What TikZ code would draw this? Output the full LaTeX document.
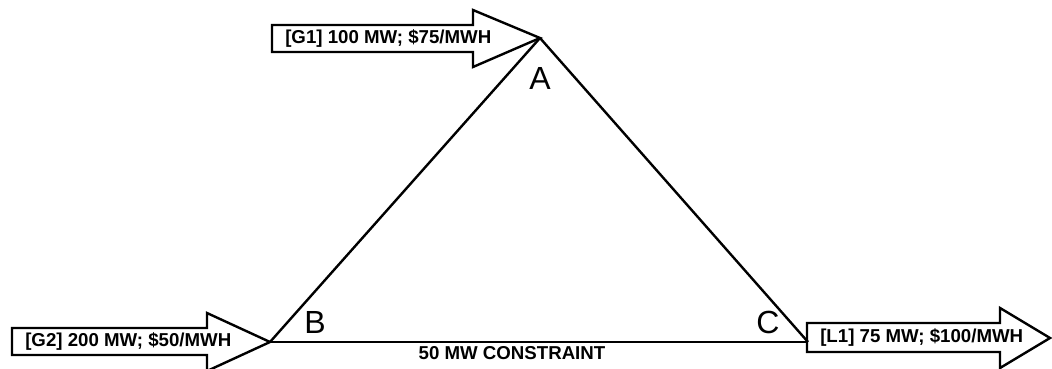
\documentclass[tikz,border=0pt]{standalone}
\usepackage{fontspec}
\setmainfont{Liberation Sans}
\usetikzlibrary{positioning}

\begin{document}
\begin{tikzpicture}[
    x=0.75pt, y=-0.75pt,
    node distance=22pt,
    line/.style={line width=1.8pt},
    blockarrow/.style={draw, line width=1.8pt, fill=white, line join=miter},
    tag/.style={font=\bfseries\fontsize{14}{16}\selectfont, inner sep=0pt, anchor=west},
    corner/.style={font=\fontsize{24}{28}\selectfont, inner sep=0pt}
  ]
    \useasboundingbox (0,0) rectangle (1052,368);
    \coordinate (A) at (540,38);
    \coordinate (B) at (270,342);
    \coordinate (C) at (808,342);
    % block arrows
    \draw[blockarrow] (272,25) -- (473,25) -- (473,10) -- (A) -- (473,67) -- (473,52) -- (272,52) -- cycle;
    \draw[blockarrow] (12,328) -- (207,328) -- (207,313) -- (B) -- (207,371) -- (207,355) -- (12,355) -- cycle;
    \draw[blockarrow] (807,323) -- (1000,323) -- (1000,308) -- (1050,338) -- (1000,368) -- (1000,352) -- (807,352) -- cycle;
    \node[tag] (g1) at (285,39) {[G1] 100 MW; \$75/MWH};
    \node[tag] (g2) at (25,342) {[G2] 200 MW; \$50/MWH};
    \node[tag] (l1) at (820,338) {[L1] 75 MW; \$100/MWH};
    % network
    \draw[line] (A) -- (B);
    \draw[line] (A) -- (C);
    \draw[line] (B) -- (C);
    \node[corner, below=of A] (labA) {A};
    \node[corner] (labB) at (315,322) {B};
    \node[corner] (labC) at (768,322) {C};
    \node[tag, anchor=center] (lim) at (512,353) {50 MW CONSTRAINT};
  \end{tikzpicture}
\end{document}
